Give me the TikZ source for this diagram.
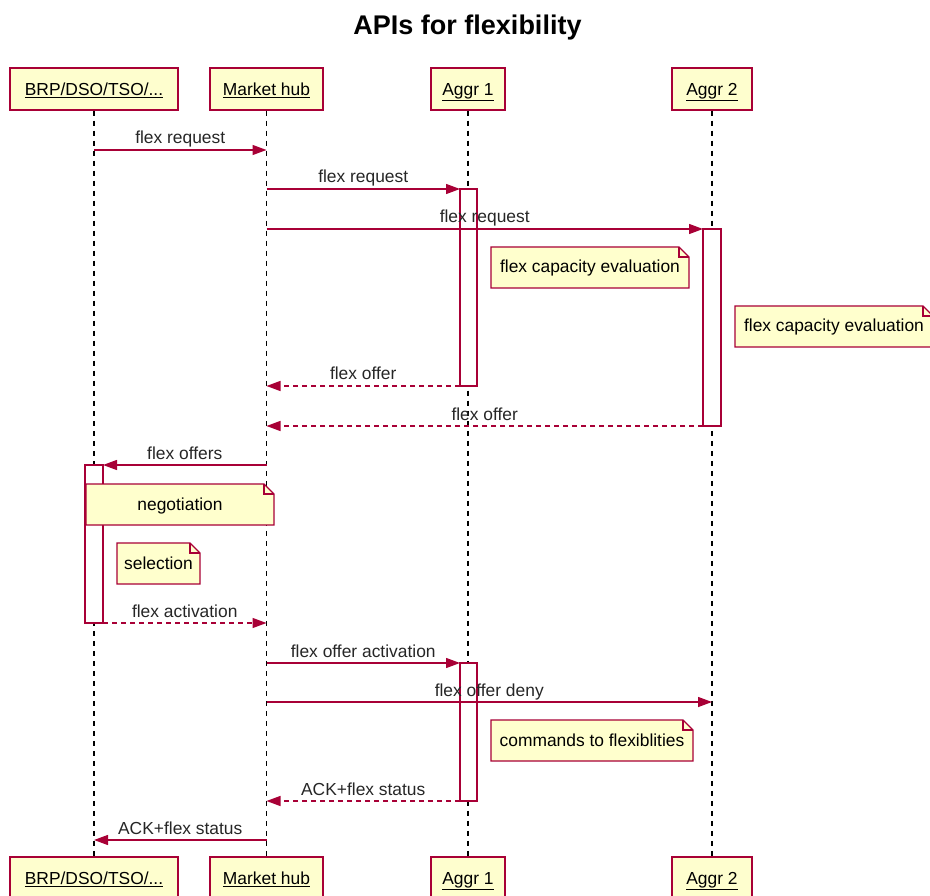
\documentclass[tikz,border=0pt]{standalone}
\usepackage{fontspec}
\setmainfont{Liberation Sans}
\usetikzlibrary{arrows.meta}
\definecolor{bord}{HTML}{A80036}
\definecolor{pfill}{HTML}{FEFECE}
\definecolor{nfill}{HTML}{FFFFCD}
\newcommand\fsz{\fontsize{17.4}{20}\selectfont}
\newcommand\dognote[6]{%
  \path[fill=nfill] (#2,#3) -- (#4-10,#3) -- (#4,#3+10) -- (#4,#5) -- (#2,#5) -- cycle;
  \draw[notedraw] (#2,#3) -- (#4-10,#3) -- (#4,#3+10) -- (#4,#5) -- (#2,#5) -- cycle;
  \draw[notedraw] (#4-10,#3) -- (#4-10,#3+10) -- (#4,#3+10);
  \node[font=\fsz, inner sep=0pt, text height=14pt, text depth=3pt] (#1) at ({(#2+#4)/2},{(#3+#5)/2}) {#6};
}
\begin{document}
\begin{tikzpicture}[x=1pt,y=-1pt,
  part/.style={draw=bord, fill=pfill, line width=1.5pt, minimum height=42pt, inner sep=0pt, font=\fsz, text height=15pt, text depth=2pt},
  life/.style={draw=black, line width=1.2pt, dash pattern=on 5pt off 5pt},
  actbox/.style={draw=bord, fill=white, line width=1.3pt, inner sep=0pt, outer sep=0pt, anchor=north west},
  msg/.style={draw=bord, line width=1.3pt, -{Triangle[length=14pt,width=10pt]}},
  reply/.style={msg, dash pattern=on 5pt off 4pt},
  lbl/.style={font=\fsz, anchor=base, yshift=6pt, inner sep=0pt, text=black!85},
  notedraw/.style={draw=bord, line width=1.3pt, line join=miter}
]
\useasboundingbox (0,0) rectangle (930,896);

\node[font=\bfseries\fontsize{27}{30}\selectfont] (title) at (467.5,28) {APIs for flexibility};

% participants
\node[part, minimum width=168pt] (pA) at (94,89) {\underline{BRP/DSO/TSO/...}};
\node[part, minimum width=113pt] (pM) at (266.5,89) {\underline{Market hub}};
\node[part, minimum width=74pt] (pG) at (468,89) {\underline{Aggr 1}};
\node[part, minimum width=80pt] (pH) at (712,89) {\underline{Aggr 2}};
\node[part, minimum width=168pt] (bA) at (94,878) {\underline{BRP/DSO/TSO/...}};
\node[part, minimum width=113pt] (bM) at (266.5,878) {\underline{Market hub}};
\node[part, minimum width=74pt] (bG) at (468,878) {\underline{Aggr 1}};
\node[part, minimum width=80pt] (bH) at (712,878) {\underline{Aggr 2}};

% lifelines
\draw[life] (pA) -- (bA);
\draw[life] (pM) -- (bM);
\draw[life] (pG) -- (bG);
\draw[life] (pH) -- (bH);

% activations
\node[actbox, minimum width=17pt, minimum height=197pt] (act1) at (460,189) {};
\node[actbox, minimum width=18pt, minimum height=197pt] (act2) at (703,229) {};
\node[actbox, minimum width=18pt, minimum height=158pt] (act3) at (85,465) {};
\node[actbox, minimum width=17pt, minimum height=138pt] (act4) at (460,663) {};

% message rows
\coordinate (y1) at (0,150);
\coordinate (y13) at (0,702);
\coordinate (y16) at (0,840);

\draw[msg] (pA |- y1) -- node[lbl] {flex request} (pM |- y1);
\draw[msg] (pM |- act1.north) -- node[lbl] {flex request} (act1.north west);
\draw[msg] (pM |- act2.north) -- node[lbl] {flex request} (act2.north west);

\dognote{n1}{491}{247}{689}{288}{flex capacity evaluation}
\dognote{n2}{735}{306}{933}{347}{flex capacity evaluation}

\draw[reply] (act1.south west) -- node[lbl] {flex offer} (pM |- act1.south);
\draw[reply] (act2.south west) -- node[lbl] {flex offer} (pM |- act2.south);

\draw[msg] (pM |- act3.north) -- node[lbl] {flex offers} (act3.north east);

\dognote{n3}{86}{484}{274}{525}{negotiation}
\dognote{n4}{117}{543}{200}{584}{selection}

\draw[reply] (act3.south east) -- node[lbl] {flex activation} (pM |- act3.south);

\draw[msg] (pM |- act4.north) -- node[lbl] {flex offer activation} (act4.north west);
\draw[msg] (pM |- y13) -- node[lbl] {flex offer deny} (pH |- y13);

\dognote{n5}{491}{720}{693}{761}{commands to flexiblities}

\draw[reply] (act4.south west) -- node[lbl] {ACK+flex status} (pM |- act4.south);
\draw[msg] (pM |- y16) -- node[lbl] {ACK+flex status} (pA |- y16);
\end{tikzpicture}
\end{document}
